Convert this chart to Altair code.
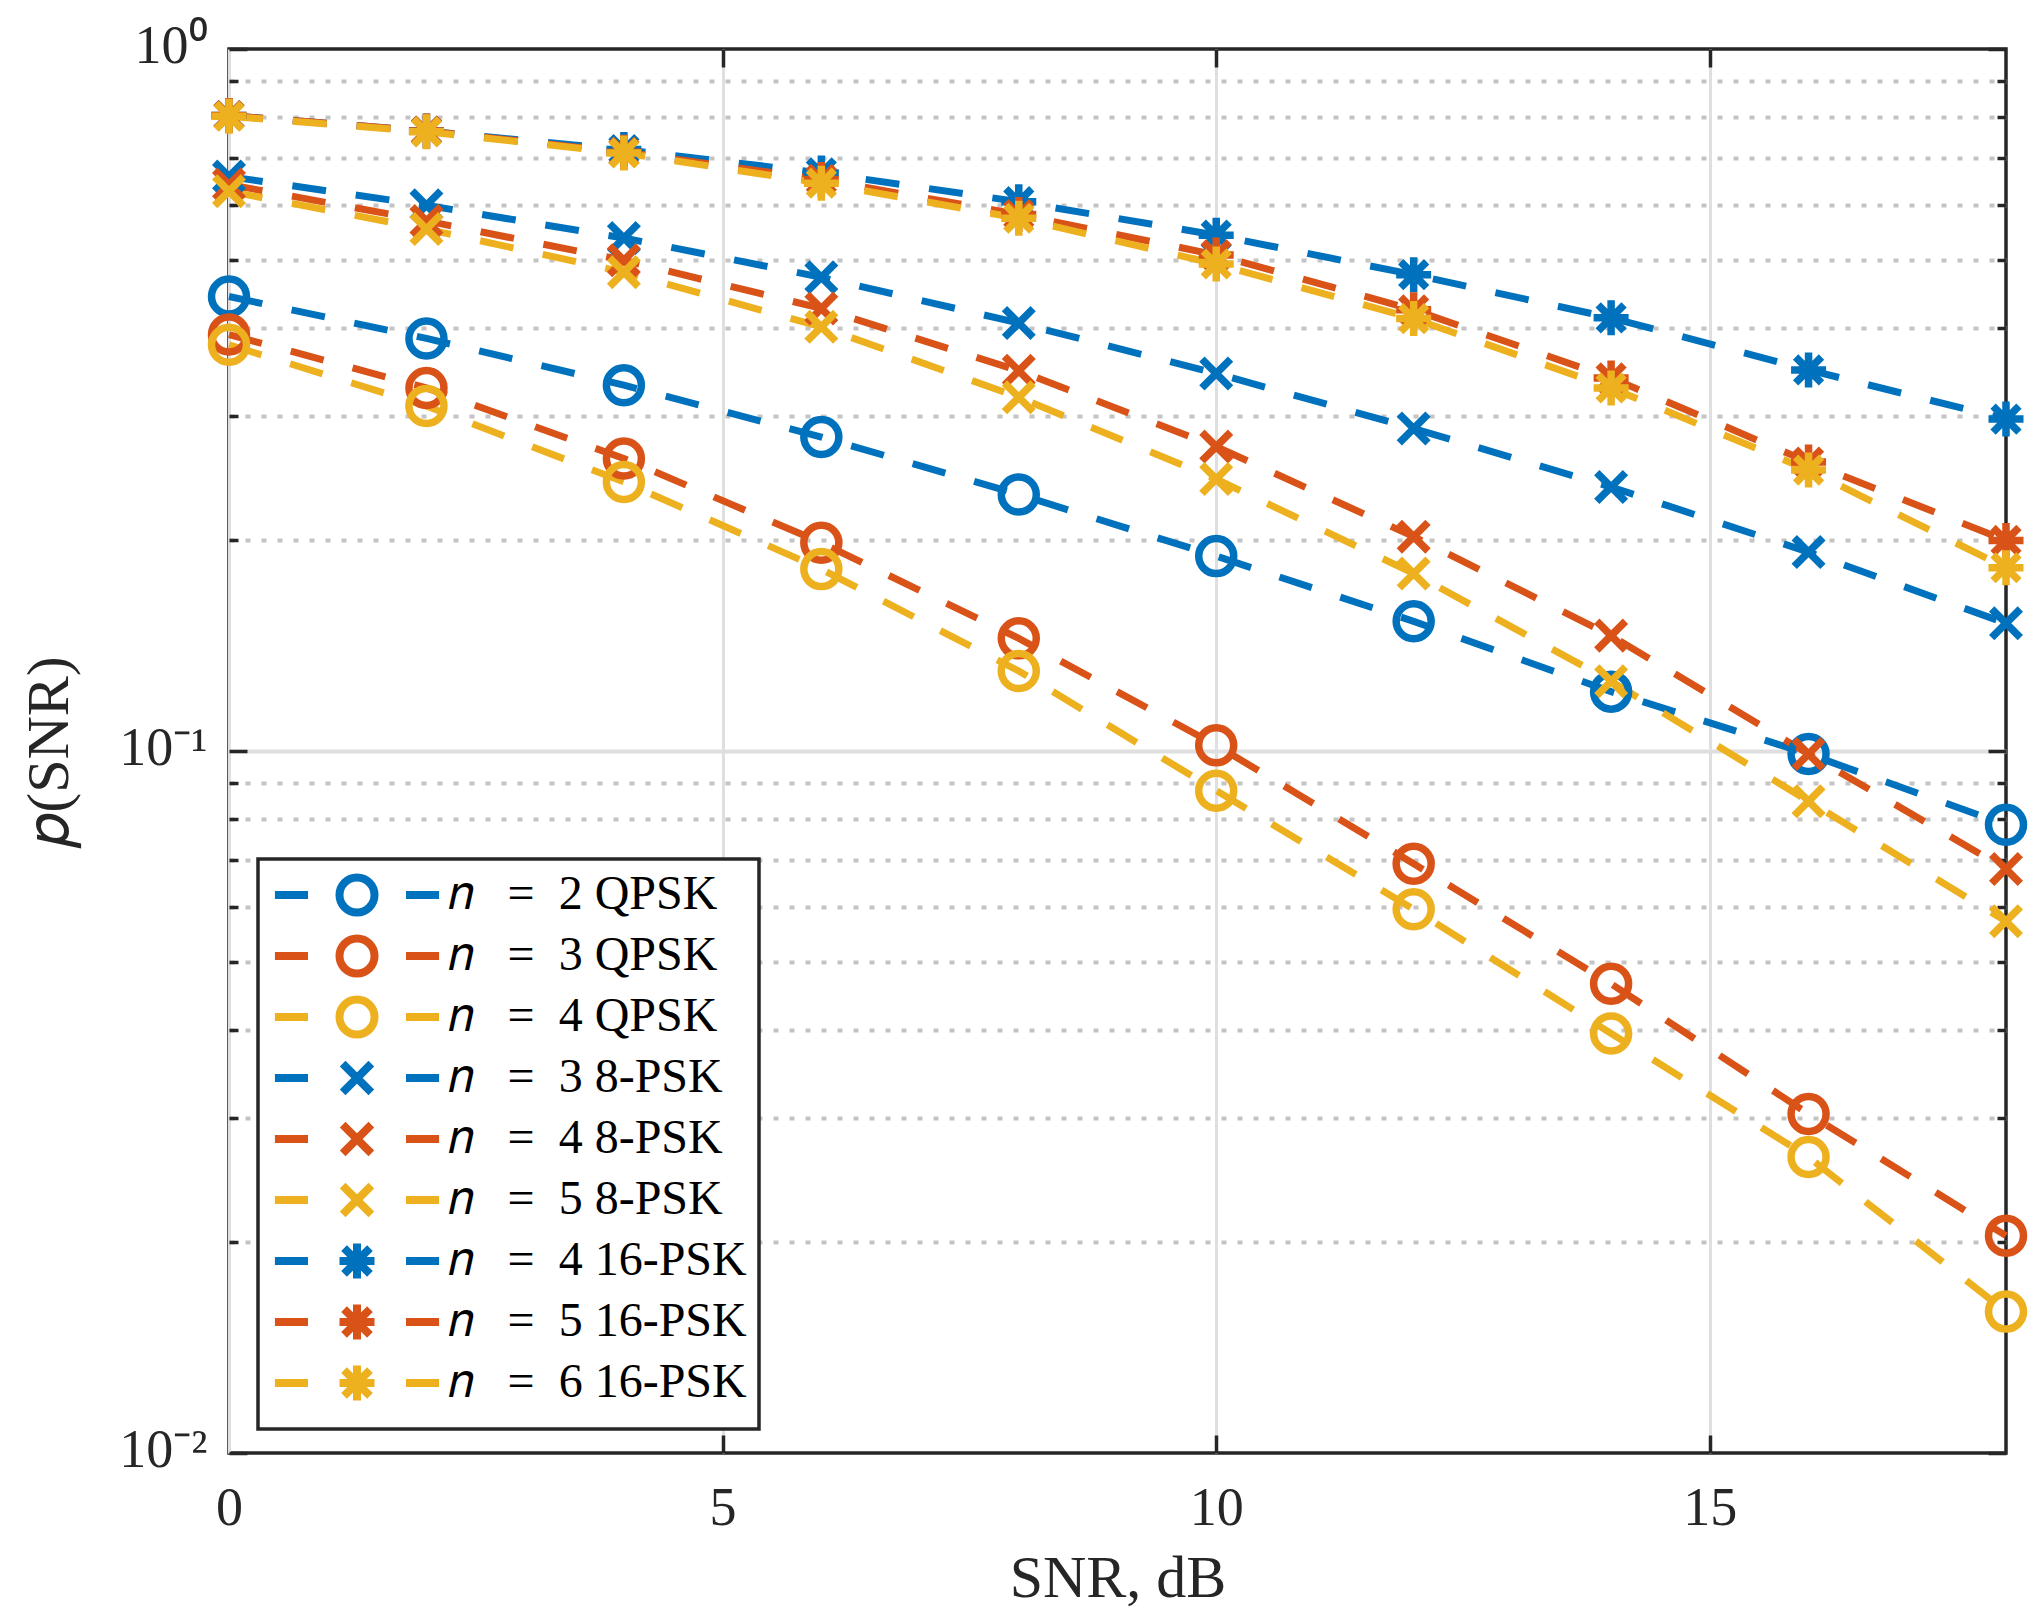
import altair as alt
import pandas as pd

# ---- data ----
snr = [0, 2, 4, 6, 8, 10, 12, 14, 16, 18]

labels = [
    "𝑛\u2002\u2009=\u20022 QPSK",
    "𝑛\u2002\u2009=\u20023 QPSK",
    "𝑛\u2002\u2009=\u20024 QPSK",
    "𝑛\u2002\u2009=\u20023 8-PSK",
    "𝑛\u2002\u2009=\u20024 8-PSK",
    "𝑛\u2002\u2009=\u20025 8-PSK",
    "𝑛\u2002\u2009=\u20024 16-PSK",
    "𝑛\u2002\u2009=\u20025 16-PSK",
    "𝑛\u2002\u2009=\u20026 16-PSK",
]

qpsk_n2 = [0.444, 0.387, 0.332, 0.280, 0.232, 0.1895, 0.153, 0.1215, 0.0990, 0.0785]
qpsk_n3 = [0.392, 0.329, 0.261, 0.198, 0.1447, 0.1019, 0.0691, 0.0466, 0.0304, 0.0204]
qpsk_n4 = [0.379, 0.310, 0.2417, 0.1816, 0.130, 0.0878, 0.0595, 0.0396, 0.0264, 0.0159]
psk8_n3 = [0.658, 0.599, 0.538, 0.473, 0.407, 0.345, 0.288, 0.2377, 0.192, 0.152]
psk8_n4 = [0.641, 0.569, 0.500, 0.427, 0.348, 0.2714, 0.202, 0.146, 0.099, 0.0679]
psk8_n5 = [0.627, 0.554, 0.481, 0.402, 0.319, 0.244, 0.179, 0.1257, 0.0848, 0.0572]
psk16_n4 = [0.804, 0.764, 0.719, 0.666, 0.606, 0.543, 0.477, 0.414, 0.349, 0.297]
psk16_n5 = [0.804, 0.764, 0.713, 0.652, 0.581, 0.509, 0.425, 0.340, 0.258, 0.1995]
psk16_n6 = [0.802, 0.762, 0.711, 0.644, 0.574, 0.494, 0.413, 0.329, 0.2513, 0.1824]

series_values = [qpsk_n2, qpsk_n3, qpsk_n4, psk8_n3, psk8_n4, psk8_n5,
                 psk16_n4, psk16_n5, psk16_n6]

x_major = [0, 5, 10, 15]
x_inner = [5, 10, 15]
y_major = [0.01, 0.1, 1]
y_minor = [k * 10.0 ** e for e in (-2, -1) for k in range(2, 10)]

colors = ["#0072BD", "#D95319", "#EDB120"] * 3
marker_widths = [7.5] * 3 + [10] * 3 + [10] * 3

# ---- marker shapes (unit coords) ----
CIRC = "M1,0A1,1,0,1,1,-1,0A1,1,0,1,1,1,0Z"
XM = "M0,-1M0,1M-0.82,-0.82L0.82,0.82M-0.82,0.82L0.82,-0.82"
AST = "M-1,0L1,0M0,-1L0,1M-0.74,-0.74L0.74,0.74M-0.74,0.74L0.74,-0.74"
DASH = "M-4.69,0L-2.8,0M2.8,0L4.69,0"
marker_paths = [CIRC] * 3 + [XM] * 3 + [AST] * 3
legend_paths = [DASH + m for m in marker_paths]

rows = []
for lab, vals in zip(labels, series_values):
    for s, v in zip(snr, vals):
        rows.append({"snr": s, "p": v, "series": lab})
df = pd.DataFrame(rows)

W, H = 1777, 1404
FONT = "Liberation Serif"
INK = "#262626"

xscale = alt.Scale(domain=[0, 18], nice=False, zero=False)
yscale = alt.Scale(type="log", domain=[0.01, 1], nice=False)


def X(axis):
    return alt.X("snr:Q", scale=xscale, axis=axis)


def Y(axis):
    return alt.Y("p:Q", scale=yscale, axis=axis)


def tick_axis(orient, offset, values, size):
    return alt.Axis(orient=orient, offset=offset, values=values, tickSize=size,
                    tickWidth=3.5, tickColor=INK, labels=False, domain=False,
                    grid=False, title=None)


color_scale = alt.Scale(domain=labels, range=colors)

lines = alt.Chart(df).mark_line(strokeWidth=7, strokeDash=[34, 30]).encode(
    x=X(alt.Axis(orient="bottom", values=x_major, ticks=False, domain=False,
                 grid=True, gridColor="#dfdfdf", gridWidth=3, labelFlush=False,
                 labelFont=FONT, labelFontSize=54, labelColor=INK, labelPadding=28,
                 format="d", title="SNR, dB", titleFont=FONT, titleFontSize=60,
                 titleFontWeight="normal", titleColor=INK, titlePadding=14)),
    y=Y(alt.Axis(orient="left", values=y_major, ticks=False, domain=False, grid=False,
                 labelExpr="datum.value > 0.5 ? '10⁰' : (datum.value > 0.05 ? '10⁻¹' : '10⁻²')",
                 labelFont=FONT, labelFontSize=54, labelColor=INK, labelPadding=22,
                 labelBaseline="middle", labelFlush=False, labelOffset=-3,
                 title="𝑝(SNR)", titleFont=FONT, titleFontSize=60,
                 titleFontWeight="normal", titleColor=INK, titlePadding=38)),
    color=alt.Color("series:N", scale=color_scale, legend=None),
)

points = alt.Chart(df).mark_point(filled=False, size=1225, opacity=1).encode(
    x=X(tick_axis("top", -H, x_inner, 18)),
    y=Y(alt.Axis(orient="left", values=y_minor + [0.1], ticks=False, labels=False,
                 domain=False, grid=True, gridWidth=4,
                 gridDash={"condition": {"test": "datum.value > 0.099 && datum.value < 0.101", "value": []},
                           "value": [5, 11]},
                 gridColor={"condition": {"test": "datum.value > 0.099 && datum.value < 0.101", "value": "#dfdfdf"},
                            "value": "#c4c4c4"},
                 title=None)),
    color=alt.Color("series:N", scale=color_scale, legend=None),
    shape=alt.Shape("series:N", scale=alt.Scale(domain=labels, range=marker_paths), legend=None),
    strokeWidth=alt.StrokeWidth("series:N", scale=alt.Scale(domain=labels, range=marker_widths), legend=None),
)

legend_def = alt.Legend(
    orient="none", legendX=29, legendY=810, title=None, padding=12, rowPadding=-7,
    symbolSize=1225, symbolOffset=63, labelOffset=67, symbolStrokeWidth=8,
    labelFont=FONT, labelFontSize=48, labelColor="black", labelLimit=1000,
    fillColor="white", strokeColor=INK,
)

legend_src = alt.Chart(df).mark_point(filled=False, strokeWidth=8, size=0, opacity=1).encode(
    x=X(tick_axis("bottom", -H, x_inner, 18)),
    y=Y(tick_axis("right", -W, y_major, 18)),
    color=alt.Color("series:N", scale=color_scale, legend=legend_def),
    shape=alt.Shape("series:N", scale=alt.Scale(domain=labels, range=legend_paths), legend=legend_def),
)


def dummy(yaxis):
    return alt.Chart(df).mark_point(size=0, opacity=0).encode(x=X(None), y=Y(yaxis))


d1 = dummy(tick_axis("right", -W, y_minor, 9))
d2 = dummy(tick_axis("left", -W, y_major, 18))
d3 = dummy(tick_axis("left", -W, y_minor, 9))

chart = (
    alt.layer(lines, points, legend_src, d1, d2, d3)
    .resolve_axis(x="independent", y="independent")
    .resolve_scale(shape="independent", color="independent", strokeWidth="independent")
    .properties(width=W, height=H,
                padding={"left": 221, "top": 41, "right": 29, "bottom": 163},
                autosize=alt.AutoSizeParams(type="none"),
                background="white")
    .configure_view(stroke=INK, strokeWidth=3.5)
    .configure_legend(strokeWidth=3.5)
)

chart.save("out.html", embed_options={"renderer": "svg", "actions": False})
